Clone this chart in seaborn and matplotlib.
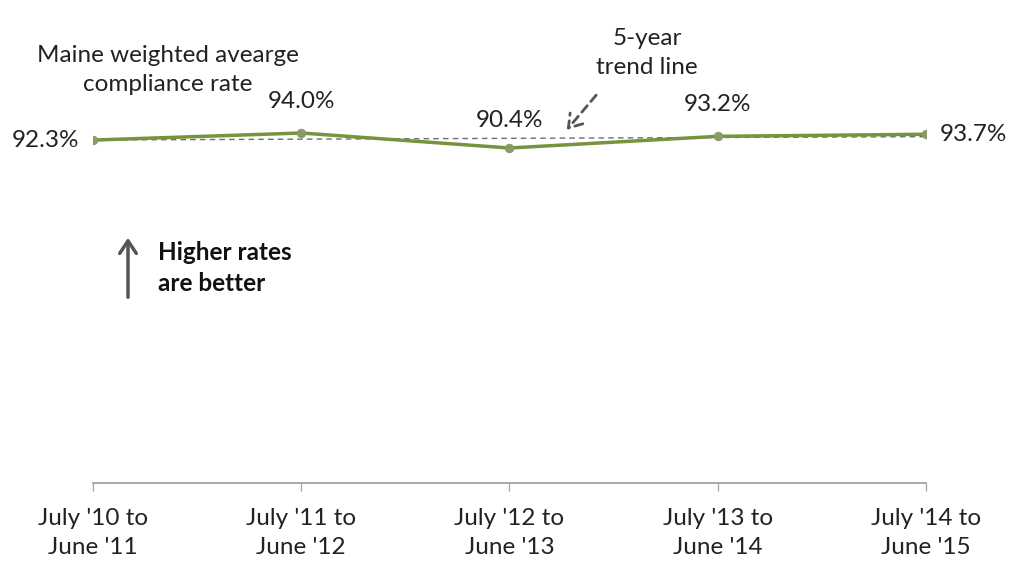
import pandas as pd
import numpy as np
import seaborn as sns
import matplotlib.pyplot as plt

# data
periods = ["July '10 to\nJune '11", "July '11 to\nJune '12", "July '12 to\nJune '13",
           "July '13 to\nJune '14", "July '14 to\nJune '15"]
rates = [92.3, 94.0, 90.4, 93.2, 93.7]

df = pd.DataFrame({"x": np.arange(len(periods)), "rate": rates})

# 5-year trend (least squares)
slope, icpt = np.polyfit(df["x"], df["rate"], 1)
df["trend"] = icpt + slope * df["x"]

sns.set_style("white")
plt.rcParams['font.family'] = ['Lato', 'DejaVu Sans']

fs = 17.5
fig = plt.figure(figsize=(10.16, 5.63), dpi=100)
ax = fig.add_axes([93 / 1016, 1 - 483 / 563, (926 - 93) / 1016, 375 / 563])

sns.lineplot(data=df, x="x", y="trend", ax=ax, color="#6f6f6f", lw=1.0,
             linestyle=(0, (4, 3)))
sns.lineplot(data=df, x="x", y="rate", ax=ax, color="#77933c", lw=2.5,
             marker="o", markersize=6, markerfacecolor="#8a9a6a",
             markeredgecolor="#8a9a6a")

ax.set_xlim(0, 4)
ax.set_ylim(10, 100)
ax.set_xticks(df["x"])
ax.set_xticklabels(periods, fontsize=fs, color="#222222", linespacing=1.5)
ax.set_yticks([])
ax.set_xlabel("")
ax.set_ylabel("")
for s in ["top", "right", "left"]:
    ax.spines[s].set_visible(False)
ax.spines["bottom"].set_color("#999999")
ax.spines["bottom"].set_linewidth(1.2)
ax.tick_params(axis="x", bottom=True, direction="out", length=6, width=1,
               color="#aaaaaa", pad=12)

# value labels
lab = [f"{v:.1f}%" for v in rates]
ax.annotate(lab[0], (0, rates[0]), xytext=(-10, 0), textcoords="offset points",
            ha="right", va="center", fontsize=fs, color="#222222", annotation_clip=False)
for i in [1, 2, 3]:
    ax.annotate(lab[i], (i, rates[i]), xytext=(0, 15 if i != 2 else 12),
                textcoords="offset points", ha="center", va="bottom",
                fontsize=fs, color="#222222", annotation_clip=False)
ax.annotate(lab[4], (4, rates[4]), xytext=(10, 0), textcoords="offset points",
            ha="left", va="center", fontsize=fs, color="#222222", annotation_clip=False)

fig.text(168 / 1016, 1 - 70 / 563, "Maine weighted avearge\ncompliance rate",
         ha="center", va="center", fontsize=fs, color="#222222", linespacing=1.5)
fig.text(647 / 1016, 1 - 53 / 563, "5-year\ntrend line",
         ha="center", va="center", fontsize=fs, color="#222222", linespacing=1.5)
fig.text(158 / 1016, 1 - 268 / 563, "Higher rates\nare better",
         ha="left", va="center", fontsize=fs, fontweight="bold", color="#111111",
         linespacing=1.45)

# arrows
fig.add_artist(plt.matplotlib.patches.FancyArrowPatch(
    (598 / 1016, 1 - 93 / 563), (565 / 1016, 1 - 132 / 563), transform=fig.transFigure,
    arrowstyle="->,head_length=6,head_width=4", linestyle=(0, (3, 2)), lw=2,
    color="#555555", mutation_scale=1.5))
fig.add_artist(plt.matplotlib.patches.FancyArrowPatch(
    (128 / 1016, 1 - 300 / 563), (128 / 1016, 1 - 235 / 563), transform=fig.transFigure,
    arrowstyle="->,head_length=6,head_width=4", lw=2.5, color="#555555",
    mutation_scale=1.5))

fig.savefig("out.png", dpi=100)
